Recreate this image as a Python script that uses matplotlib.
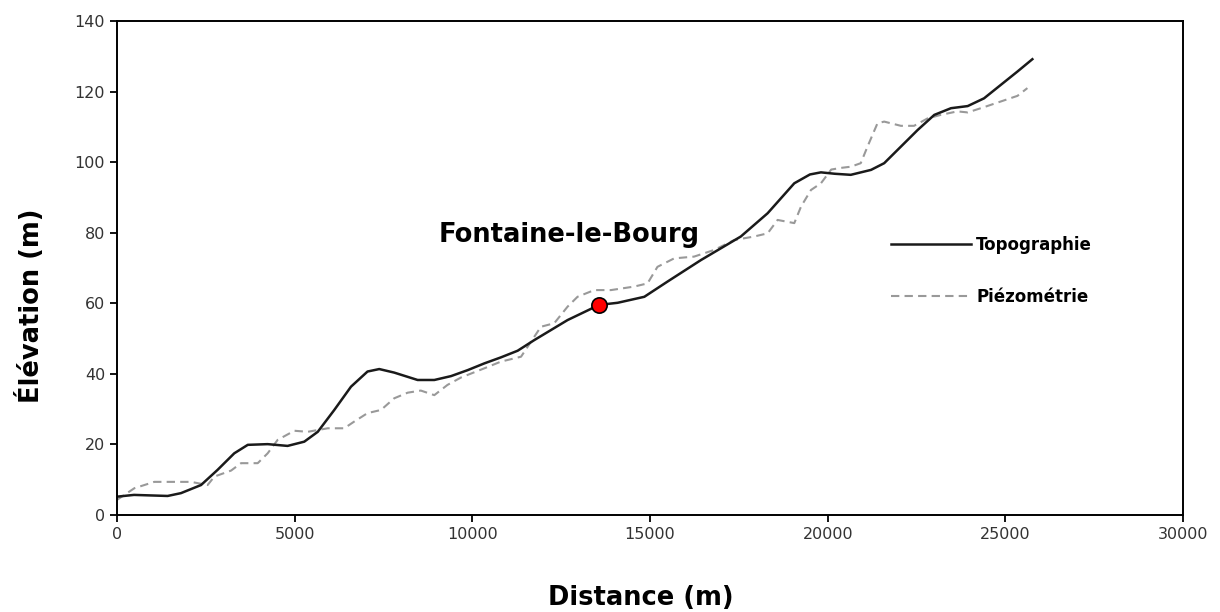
import numpy as np
import matplotlib.pyplot as plt

# Topographie (solid line)
topo_x = [0, 480, 1425, 1800, 2365, 2830, 3300, 3680, 4240, 4800, 5270, 5650,
          6115, 6585, 7050, 7380, 7800, 8460, 8930, 9400, 9870, 10335, 10800,
          11275, 11740, 12680, 13570, 14090, 14840, 15490, 16430, 17555, 18310,
          19060, 19500, 19810, 20200, 20650, 21220, 21590, 22060, 22530, 23000,
          23470, 23940, 24400, 24870, 25340, 25760]
topo_y = [5.2, 5.7, 5.4, 6.2, 8.5, 12.8, 17.5, 19.9, 20.1, 19.6, 20.8, 23.6,
          29.8, 36.4, 40.7, 41.4, 40.4, 38.3, 38.3, 39.4, 41.1, 43.0, 44.7,
          46.6, 49.6, 55.3, 59.6, 60.2, 61.9, 66.2, 72.3, 79.0, 85.6,
          94.1, 96.6, 97.2, 96.8, 96.5, 97.9, 99.8, 104.5, 109.2, 113.5,
          115.4, 116.0, 118.2, 122.0, 125.8, 129.3]

# Piézométrie (dashed line)
piezo_x = [0, 490, 1050, 1610, 2080, 2550, 2740, 3210, 3490, 3960, 4240, 4520,
           4990, 5365, 5930, 6395, 6675, 7050, 7430, 7800, 8180, 8550, 8930,
           9300, 9680, 10335, 10800, 11370, 11930, 12305, 12680, 12960, 13430,
           13900, 14555, 14930, 15210, 15680, 16240, 16810, 17370, 17930, 18310,
           18590, 19060, 19250, 19530, 19810, 20100, 20400, 20650, 20930, 21120,
           21400, 21590, 22060, 22430, 22810, 23180, 23650, 23940, 24400, 24870,
           25340, 25620]
piezo_y = [4.3, 7.6, 9.4, 9.4, 9.4, 8.5, 10.9, 12.6, 14.7, 14.7, 17.5, 21.3,
           23.9, 23.6, 24.6, 24.6, 26.5, 28.9, 29.8, 33.1, 34.7, 35.3, 34.0,
           36.9, 39.0, 41.6, 43.5, 44.9, 53.4, 54.4, 59.1, 61.9, 63.8,
           63.8, 64.8, 65.7, 70.4, 72.8, 73.3, 75.2, 78.0, 79.0, 79.9,
           83.7, 82.8, 87.5, 92.2, 94.1, 98.0, 98.5, 98.8, 99.8, 104.5,
           111.1, 111.6, 110.4, 110.4, 112.5, 113.5, 114.5, 114.2, 115.7, 117.3,
           118.9, 121.1]

site_name = "Fontaine-le-Bourg"
site_x = 13570
site_y = 59.6

fig = plt.figure(figsize=(12.2, 6.12), dpi=100)
ax = fig.add_axes([0.0959, 0.1585, 0.8738, 0.8064])

ax.plot(piezo_x, piezo_y, color="#999999", lw=1.5, ls=(0, (4, 2.5)), label="Piézométrie")
ax.plot(topo_x, topo_y, color="#1a1a1a", lw=1.8, label="Topographie")
ax.plot(site_x, site_y, "o", ms=11, mfc="red", mec="black", mew=1.2, zorder=5)

ax.text(12720, 77.4, site_name, fontsize=18.5, fontweight="bold",
        ha="center", va="baseline")

ax.set_xlim(0, 30000)
ax.set_ylim(0, 140)
ax.set_xticks(np.arange(0, 30001, 5000))
ax.set_yticks(np.arange(0, 141, 20))
ax.tick_params(labelsize=11.5, labelcolor="#333333", width=1.3, length=5)
for s in ax.spines.values():
    s.set_linewidth(1.4)

ax.set_xlabel("Distance (m)", fontsize=18.5, fontweight="bold")
ax.set_ylabel("Élévation (m)", fontsize=18.5, fontweight="bold")
ax.xaxis.set_label_coords(0.4916, -0.168)
ax.xaxis.label.set_verticalalignment("center")
ax.yaxis.set_label_coords(-0.0816, 0.425)
ax.yaxis.label.set_verticalalignment("center")

h, l = ax.get_legend_handles_labels()
ax.legend(h[::-1], l[::-1], loc="center left", bbox_to_anchor=(0.712, 0.495),
          frameon=False, handlelength=4.8, handletextpad=0.3,
          labelspacing=2.06, prop={"weight": "bold", "size": 12})

fig.savefig("out.png", dpi=100)
